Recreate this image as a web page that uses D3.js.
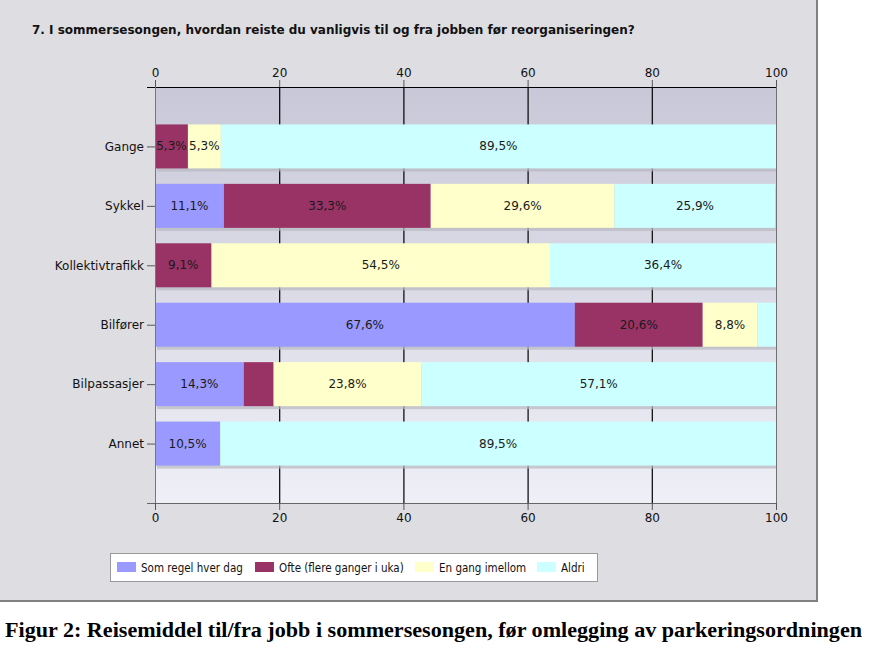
<!DOCTYPE html>
<html>
<head>
<meta charset="utf-8">
<title>Reisemiddel sommer</title>
<script src="https://d3js.org/d3.v7.min.js"></script>
<style>
  body { margin: 0; background: #ffffff; }
</style>
</head>
<body>
<script>
// data
var categories = ["Gange", "Sykkel", "Kollektivtrafikk", "Bilfører", "Bilpassasjer", "Annet"];
var seriesNames = ["Som regel hver dag", "Ofte (flere ganger i uka)", "En gang imellom", "Aldri"];
var somRegel = [0, 11.1, 0, 67.6, 14.3, 10.5];
var ofte     = [5.3, 33.3, 9.1, 20.6, 4.8, 0];
var enGang   = [5.3, 29.6, 54.5, 8.8, 23.8, 0];
var aldri    = [89.5, 25.9, 36.4, 3.0, 57.1, 89.5];
var xTicks = [0, 20, 40, 60, 80, 100];
var colors = ["#9999ff", "#993366", "#ffffcc", "#ccffff"];

var title = "7. I sommersesongen, hvordan reiste du vanligvis til og fra jobben før reorganiseringen?";
var caption = "Figur 2: Reisemiddel til/fra jobb i sommersesongen, før omlegging av parkeringsordningen";

var font = "Tahoma, Verdana, 'DejaVu Sans', sans-serif";
var width = 878, height = 650;
var svg = d3.select("body").append("svg")
    .attr("width", width).attr("height", height)
    .style("font-family", font);

// panel
svg.append("rect").attr("x", 0).attr("y", 0).attr("width", 818).attr("height", 601)
    .attr("fill", "#dedde2");
svg.append("path").attr("d", "M817,0 V601 H0")
    .attr("fill", "none").attr("stroke", "#808080").attr("stroke-width", 2);

svg.append("text").attr("x", 32).attr("y", 34)
    .style("font-size", "12px").style("font-weight", "bold").attr("fill", "#111")
    .text(title);

var x = d3.scaleLinear().domain([0, 100]).range([155, 776]);
var y = d3.scaleLinear().domain([-1, categories.length]).range([87, 503]);
var barH = 44;

// plot background gradient
var defs = svg.append("defs");
var grad = defs.append("linearGradient").attr("id", "bg").attr("x1", 0).attr("y1", 0).attr("x2", 0).attr("y2", 1);
grad.append("stop").attr("offset", "0%").attr("stop-color", "#c8c8d8");
grad.append("stop").attr("offset", "100%").attr("stop-color", "#efeff7");
svg.append("rect").attr("x", x(0)).attr("y", y(-1))
    .attr("width", x(100) - x(0)).attr("height", y(categories.length) - y(-1))
    .attr("fill", "url(#bg)");

// grid
svg.append("g").selectAll("line").data(xTicks.slice(1, -1)).join("line")
    .attr("x1", d => x(d) + 0.5).attr("x2", d => x(d) + 0.5)
    .attr("y1", y(-1)).attr("y2", y(categories.length))
    .attr("stroke", "#000").attr("stroke-width", 1.2);
svg.append("line").attr("x1", x(100) + 0.5).attr("x2", x(100) + 0.5)
    .attr("y1", y(-1)).attr("y2", y(categories.length)).attr("stroke", "#707070");

// stack
var rows = categories.map(function (c, i) {
  return { cat: c, s0: somRegel[i], s1: ofte[i], s2: enGang[i], s3: aldri[i] };
});
var stack = d3.stack().keys(["s0", "s1", "s2", "s3"])(rows);

// shadows
svg.append("g").selectAll("rect").data(rows).join("rect")
    .attr("x", x(0) + 2).attr("y", (d, i) => y(i) - barH / 2 + 3)
    .attr("width", x(100) - x(0) - 2).attr("height", barH)
    .attr("fill", "#b8b8c0").attr("opacity", 0.7);

var layers = svg.append("g").selectAll("g").data(stack).join("g")
    .attr("fill", (d, k) => colors[k]);
layers.selectAll("rect").data(d => d).join("rect")
    .attr("x", d => x(d[0]))
    .attr("y", (d, i) => y(i) - barH / 2)
    .attr("width", d => Math.max(0, Math.min(x(d[1]), x(100)) - x(d[0])))
    .attr("height", barH);

// value labels (only segments wide enough)
layers.selectAll("text")
    .data(d => d.map((p, i) => ({ p: p, i: i, v: p[1] - p[0] })).filter(e => e.v >= 5))
    .join("text")
    .attr("x", d => (x(d.p[0]) + Math.min(x(d.p[1]), x(100))) / 2)
    .attr("y", d => y(d.i) + 4)
    .attr("text-anchor", "middle").style("font-size", "12px").attr("fill", "#1a1a1a")
    .text(d => d3.format(".1f")(d.v).replace(".", ",") + "%");

// axes
function styleAxis(g, domainColor) {
  g.attr("font-family", null).attr("font-size", null);
  g.select(".domain").attr("stroke", domainColor);
  g.selectAll(".tick line").attr("stroke", "#555");
  g.selectAll(".tick text").style("font-size", "12px").attr("fill", "#111");
}
var topAxis = svg.append("g").attr("transform", "translate(0," + y(-1) + ")")
    .call(d3.axisTop(x).tickValues(xTicks).tickSize(7).tickSizeOuter(0));
topAxis.select(".domain").attr("d", "M147,0.5H776");
styleAxis(topAxis, "#000");

var bottomAxis = svg.append("g").attr("transform", "translate(0," + y(categories.length) + ")")
    .call(d3.axisBottom(x).tickValues(xTicks).tickSize(7).tickSizeOuter(0));
bottomAxis.select(".domain").attr("d", "M147,0.5H776");
styleAxis(bottomAxis, "#666");

var leftAxis = svg.append("g").attr("transform", "translate(" + x(0) + ",0)")
    .call(d3.axisLeft(d3.scalePoint().domain(categories).range([y(0), y(categories.length - 1)]))
      .tickSize(8).tickPadding(3).tickSizeOuter(0));
leftAxis.select(".domain").attr("d", "M0.5," + y(-1) + "V" + y(categories.length));
styleAxis(leftAxis, "#777");

// legend
var lg = svg.append("g");
lg.append("rect").attr("x", 110.5).attr("y", 553.5).attr("width", 487).attr("height", 28)
    .attr("fill", "#fff").attr("stroke", "#999");
var legX = [117, 255, 415, 537];
seriesNames.forEach(function (n, k) {
  lg.append("rect").attr("x", legX[k]).attr("y", 562).attr("width", 19).attr("height", 10)
      .attr("fill", colors[k]);
  lg.append("text").attr("x", legX[k] + 24).attr("y", 572)
      .style("font-family", "'DejaVu Sans Condensed', Tahoma, sans-serif")
      .style("font-size", "11.5px").attr("fill", "#111").text(n);
});

// caption
svg.append("text").attr("x", 5).attr("y", 637)
    .style("font-family", "'Liberation Serif', 'Times New Roman', serif")
    .style("font-weight", "bold").style("font-size", "22px").attr("fill", "#000")
    .attr("textLength", 857).attr("lengthAdjust", "spacingAndGlyphs")
    .text(caption);
</script>
</body>
</html>
